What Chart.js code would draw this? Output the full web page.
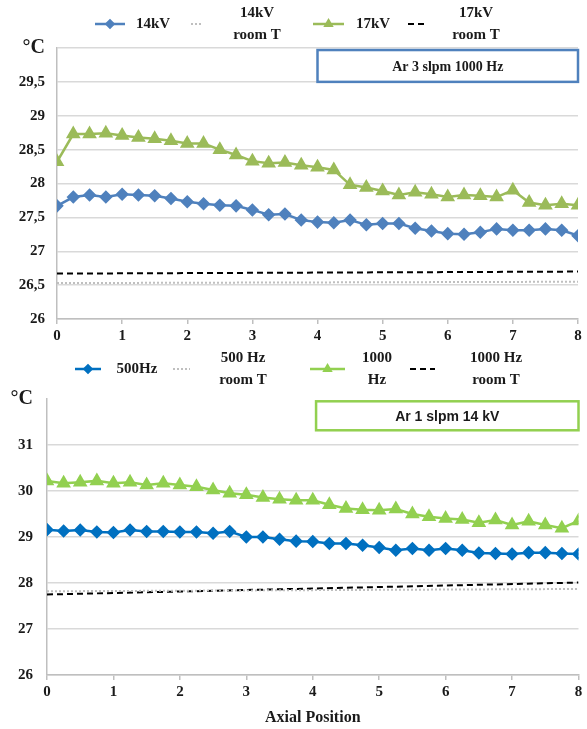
<!DOCTYPE html>
<html>
<head>
<meta charset="utf-8">
<script src="https://cdn.jsdelivr.net/npm/chart.js@4"></script>
<style>
  html, body { margin: 0; padding: 0; background: #fff; }
  .wrap { position: absolute; left: 0; width: 587px; }
  #top { top: 0; height: 345px; }
  #bottom { top: 345px; height: 384px; }
</style>
</head>
<body>
<div class="wrap" id="top"><canvas id="kvChart" width="587" height="345"></canvas></div>
<div class="wrap" id="bottom"><canvas id="hzChart" width="587" height="384"></canvas></div>
<script>
// axial positions of the measuring points
const positions = [0, 0.25, 0.5, 0.75, 1, 1.25, 1.5, 1.75, 2, 2.25, 2.5, 2.75, 3, 3.25, 3.5, 3.75,
  4, 4.25, 4.5, 4.75, 5, 5.25, 5.5, 5.75, 6, 6.25, 6.5, 6.75, 7, 7.25, 7.5, 7.75, 8];
const roomPositions = [0, 8];

// top chart: Ar 3 slpm 1000 Hz
const kv14 = [27.67, 27.80, 27.83, 27.80, 27.84, 27.83, 27.82, 27.78, 27.73, 27.70, 27.68, 27.67, 27.61, 27.54, 27.55, 27.46,
  27.43, 27.42, 27.46, 27.39, 27.41, 27.41, 27.34, 27.30, 27.26, 27.25, 27.28, 27.33, 27.31, 27.31, 27.33, 27.31, 27.23];
const kv17 = [28.32, 28.73, 28.73, 28.74, 28.71, 28.68, 28.66, 28.63, 28.59, 28.59, 28.50, 28.42, 28.33, 28.30, 28.31, 28.27,
  28.24, 28.20, 27.98, 27.94, 27.89, 27.83, 27.87, 27.84, 27.80, 27.83, 27.82, 27.80, 27.90, 27.72, 27.68, 27.70, 27.68];
const kv14Room = [26.53, 26.55];
const kv17Room = [26.67, 26.70];

// bottom chart: Ar 1 slpm 14 kV
const hz500 = [29.16, 29.13, 29.15, 29.11, 29.10, 29.15, 29.12, 29.12, 29.11, 29.11, 29.08, 29.12, 29.00, 29.00, 28.95, 28.91,
  28.90, 28.86, 28.86, 28.82, 28.77, 28.71, 28.75, 28.71, 28.75, 28.71, 28.65, 28.64, 28.63, 28.66, 28.66, 28.64, 28.63];
const hz1000 = [30.22, 30.17, 30.19, 30.22, 30.17, 30.19, 30.13, 30.17, 30.13, 30.09, 30.02, 29.95, 29.92, 29.86, 29.82, 29.80,
  29.80, 29.70, 29.62, 29.59, 29.58, 29.61, 29.50, 29.44, 29.40, 29.38, 29.31, 29.37, 29.26, 29.34, 29.26, 29.19, 29.35];
const hz500Room = [27.82, 27.87];
const hz1000Room = [27.75, 28.01];

const kvLabels = ['14kV', '14kV\nroom T', '17kV', '17kV\nroom T'];
const hzLabels = ['500Hz', '500 Hz\nroom T', '1000\nHz', '1000 Hz\nroom T'];

const serif = 'Liberation Serif, Times New Roman, serif';

function pairs(xs, ys) {
  return xs.map((x, i) => ({ x: x, y: ys[i] }));
}

// legend drawn above the plot: line sample with marker, then centred text
function legendPlugin(items, y) {
  return {
    id: 'topLegend',
    afterDraw(chart) {
      const ctx = chart.ctx;
      ctx.save();
      items.forEach((it, i) => {
        const ds = chart.data.datasets[i];
        ctx.strokeStyle = ds.borderColor;
        ctx.lineWidth = ds.borderWidth;
        ctx.setLineDash(ds.borderDash || []);
        ctx.beginPath();
        ctx.moveTo(it.x0, y);
        ctx.lineTo(it.x1, y);
        ctx.stroke();
        ctx.setLineDash([]);
        if (ds.pointRadius > 0) {
          ctx.fillStyle = ds.borderColor;
          Chart.helpers.drawPoint(ctx, { pointStyle: ds.pointStyle, radius: 3.5, rotation: 0, borderWidth: 1 },
            (it.x0 + it.x1) / 2, y);
        }
        ctx.fillStyle = '#1a1a1a';
        ctx.font = 'bold 15px ' + serif;
        ctx.textAlign = 'center';
        ctx.textBaseline = 'middle';
        const lines = ds.label.split('\n');
        lines.forEach((t, k) => ctx.fillText(t, it.tx, y + (k - (lines.length - 1) / 2) * 22));
      });
      ctx.restore();
    }
  };
}

// framed note placed in data coordinates
function notePlugin(box) {
  return {
    id: 'noteBox',
    afterDatasetsDraw(chart) {
      const { x, y } = chart.scales;
      const ctx = chart.ctx;
      const l = x.getPixelForValue(box.x[0]), r = x.getPixelForValue(box.x[1]);
      const t = y.getPixelForValue(box.y[1]), b = y.getPixelForValue(box.y[0]);
      ctx.save();
      ctx.fillStyle = '#fff';
      ctx.fillRect(l, t, r - l, b - t);
      ctx.strokeStyle = box.color;
      ctx.lineWidth = 2.5;
      ctx.strokeRect(l, t, r - l, b - t);
      ctx.fillStyle = '#1a1a1a';
      ctx.font = box.font;
      ctx.textAlign = 'center';
      ctx.textBaseline = 'middle';
      ctx.fillText(box.text, (l + r) / 2, (t + b) / 2 + 1);
      ctx.restore();
    }
  };
}

function lineSet(label, xs, ys, color, style, radius) {
  return {
    label: label, data: pairs(xs, ys), borderColor: color, backgroundColor: color,
    borderWidth: 2.5, pointStyle: style, pointRadius: radius, pointBorderColor: color,
    pointBackgroundColor: color, tension: 0
  };
}

function roomSet(label, xs, ys, color, dash) {
  return {
    label: label, data: pairs(xs, ys), borderColor: color, borderWidth: 2,
    borderDash: dash, pointRadius: 0, tension: 0
  };
}

function makeOptions(cfg) {
  return {
    responsive: false,
    animation: false,
    layout: { padding: { top: cfg.padTop, right: cfg.padRight, left: 0, bottom: 0 } },
    plugins: { legend: { display: false }, tooltip: { enabled: false } },
    scales: {
      x: {
        type: 'linear', min: 0, max: 8,
        afterFit: s => { s.height = cfg.xHeight; },
        ticks: { stepSize: 1, color: '#1a1a1a', padding: 3, font: { family: serif, size: 15, weight: 'bold' } },
        grid: { drawOnChartArea: false, drawTicks: true, tickLength: 5, color: '#bfbfbf', lineWidth: 1.5 },
        border: { color: '#bfbfbf', width: 1.5 },
        title: {
          display: !!cfg.xTitle, text: cfg.xTitle, color: '#1a1a1a',
          font: { family: serif, size: 16, weight: 'bold' }, padding: { top: 4, bottom: 2 }
        }
      },
      y: {
        min: cfg.yMin, max: cfg.yMax,
        afterFit: s => { s.width = cfg.yWidth; },
        ticks: {
          stepSize: cfg.yStep, color: '#1a1a1a', padding: cfg.yPad,
          callback: v => v === cfg.yMax ? '°C' : String(v).replace('.', ','),
          font: c => (c.tick && c.tick.value === cfg.yMax)
            ? { family: serif, size: 20, weight: 'bold' }
            : { family: serif, size: 15, weight: 'bold' }
        },
        grid: {
          drawTicks: false, lineWidth: 1.5,
          color: c => (c.tick && c.tick.value === cfg.yMax && !cfg.topGrid) ? 'rgba(0,0,0,0)' : '#d9d9d9'
        },
        border: { color: '#bfbfbf', width: 1.5 }
      }
    }
  };
}

new Chart(document.getElementById('kvChart'), {
  type: 'line',
  data: {
    datasets: [
      lineSet(kvLabels[0], positions, kv14, '#4F81BD', 'rectRot', 5),
      roomSet(kvLabels[1], roomPositions, kv14Room, '#BFBFBF', [2, 2]),
      lineSet(kvLabels[2], positions, kv17, '#9BBB59', 'triangle', 6),
      roomSet(kvLabels[3], roomPositions, kv17Room, '#000000', [6, 4])
    ]
  },
  options: makeOptions({ padTop: 48, padRight: 9, xHeight: 26, yWidth: 57, yPad: 12,
    yMin: 26, yMax: 30, yStep: 0.5, topGrid: true }),
  plugins: [
    legendPlugin([
      { x0: 95, x1: 125, tx: 153 },
      { x0: 191, x1: 203, tx: 257 },
      { x0: 313, x1: 344, tx: 373 },
      { x0: 408, x1: 428, tx: 476 }
    ], 24),
    notePlugin({ x: [4, 8], y: [29.5, 29.97], color: '#4F81BD', text: 'Ar 3 slpm 1000 Hz',
      font: 'bold 14px ' + serif })
  ]
});

new Chart(document.getElementById('hzChart'), {
  type: 'line',
  data: {
    datasets: [
      lineSet(hzLabels[0], positions, hz500, '#0070C0', 'rectRot', 5),
      roomSet(hzLabels[1], roomPositions, hz500Room, '#BFBFBF', [2, 2]),
      lineSet(hzLabels[2], positions, hz1000, '#92D050', 'triangle', 6),
      roomSet(hzLabels[3], roomPositions, hz1000Room, '#000000', [6, 4])
    ]
  },
  options: makeOptions({ padTop: 54, padRight: 7, xHeight: 54, yWidth: 47, yPad: 14,
    yMin: 26, yMax: 32, yStep: 1, topGrid: false, xTitle: 'Axial Position' }),
  plugins: [
    legendPlugin([
      { x0: 75, x1: 101, tx: 137 },
      { x0: 173, x1: 190, tx: 243 },
      { x0: 310, x1: 345, tx: 377 },
      { x0: 410, x1: 435, tx: 496 }
    ], 24),
    notePlugin({ x: [4.05, 8], y: [31.32, 31.95], color: '#92D050', text: 'Ar 1 slpm 14 kV',
      font: 'bold 14px Liberation Sans, Arial, sans-serif' })
  ]
});
</script>
</body>
</html>
